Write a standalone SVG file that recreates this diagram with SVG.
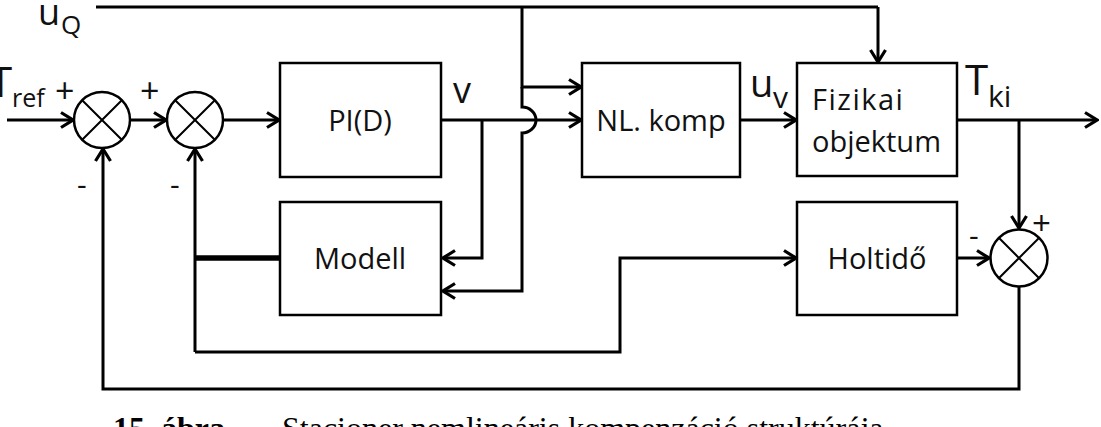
<svg xmlns="http://www.w3.org/2000/svg" width="1101" height="427" viewBox="0 0 1101 427">
<style>
.box{fill:#fff;stroke:#000;stroke-width:2.5}
.sum{fill:#fff;stroke:#000;stroke-width:2.5}
.x{stroke:#000;stroke-width:2}
.w{fill:none;stroke:#000;stroke-width:3;stroke-linejoin:miter}
.a{marker-end:url(#arr)}
.t{font-family:"Open Sans","Liberation Sans",sans-serif;fill:#111;text-anchor:middle;font-size:29px}
.l{font-family:"Open Sans","Liberation Sans",sans-serif;fill:#111}
.cap{font-family:"Liberation Serif",serif;font-size:32px;fill:#000}
</style>
<defs>
<marker id="arr" viewBox="0 0 16 18" refX="14" refY="9" markerWidth="16" markerHeight="18" markerUnits="userSpaceOnUse" orient="auto">
<path d="M2,1.5 L14,9 L2,16.5" fill="none" stroke="#000" stroke-width="3.2"/>
</marker>
</defs>

<g id="connectors">
<path class="w a" d="M7,120 H73"/>
<path class="w a" d="M130,120 H166"/>
<path class="w a" d="M223,120 H279"/>
<path class="w a" d="M441,120 H581"/>
<path class="w a" d="M482,120 V258 H443"/>
<path class="w" d="M96,7 H878"/>
<path class="w a" d="M878,7 V62"/>
<path class="w a" d="M522,7 V87 H581"/>
<path class="w a" d="M522,87 V107 A14,13 0 0 1 522,133 V291 H443"/>
<path class="w a" d="M740,120 H796"/>
<path class="w a" d="M957,120 H1097"/>
<path class="w a" d="M1019,120 V228"/>
<path class="w a" d="M957,258 H989"/>
<path class="w a" d="M1019,287 V389 H103 V149"/>
<path class="w" d="M280,258 H195" style="stroke-width:5.5"/>
<path class="w a" d="M195,352 V149"/>
<path class="w a" d="M195,352 H620 V258 H796"/>
</g>

<g id="sum1">
<circle class="sum" cx="102" cy="120" r="28"/>
<path class="x" d="M82.2,100.2 L121.8,139.8 M121.8,100.2 L82.2,139.8"/>
</g>
<g id="sum2">
<circle class="sum" cx="195" cy="120" r="28"/>
<path class="x" d="M175.2,100.2 L214.8,139.8 M214.8,100.2 L175.2,139.8"/>
</g>
<g id="sum3">
<circle class="sum" cx="1019" cy="258" r="28.5"/>
<path class="x" d="M998.8,237.8 L1039.2,278.2 M1039.2,237.8 L998.8,278.2"/>
</g>

<g id="pid">
<rect class="box" x="280" y="63" width="161" height="114"/>
<text class="t" x="360" y="131">PI(D)</text>
</g>
<g id="modell">
<rect class="box" x="280" y="202" width="161" height="113"/>
<text class="t" x="360" y="269">Modell</text>
</g>
<g id="nlkomp">
<rect class="box" x="582" y="63" width="158" height="114"/>
<text class="t" x="661" y="131">NL. komp</text>
</g>
<g id="fizikai">
<rect class="box" x="797" y="63" width="160" height="113"/>
<text class="t" x="812" y="110" style="text-anchor:start;letter-spacing:1.5px">Fizikai</text>
<text class="t" x="812" y="152" style="text-anchor:start">objektum</text>
</g>
<g id="holtido">
<rect class="box" x="797" y="202" width="160" height="113"/>
<text class="t" x="877" y="269">Holtidő</text>
</g>

<g id="labels">
<text class="l" x="38" y="25" font-size="36">u</text>
<text class="l" x="61" y="34" font-size="26">Q</text>
<text class="l" x="-11" y="97" font-size="42">T</text>
<text class="l" x="12" y="107" font-size="25">ref</text>
<text class="l" x="55" y="103" font-size="34">+</text>
<text class="l" x="140" y="103" font-size="34">+</text>
<text class="l" x="77" y="195" font-size="30">-</text>
<text class="l" x="170" y="195" font-size="30">-</text>
<text class="l" x="453" y="103" font-size="36">v</text>
<text class="l" x="750" y="97" font-size="38">u</text>
<text class="l" x="773" y="108" font-size="30">v</text>
<text class="l" x="965" y="95" font-size="42">T</text>
<text class="l" x="988" y="107" font-size="30">ki</text>
<text class="l" x="969" y="246" font-size="30">-</text>
<text class="l" x="1032" y="235" font-size="33">+</text>
</g>

<g id="caption">
<text class="cap" x="113" y="439" font-weight="bold">15. ábra</text>
<text class="cap" x="282" y="439">Stacioner nemlineáris kompenzáció struktúrája</text>
</g>
</svg>
